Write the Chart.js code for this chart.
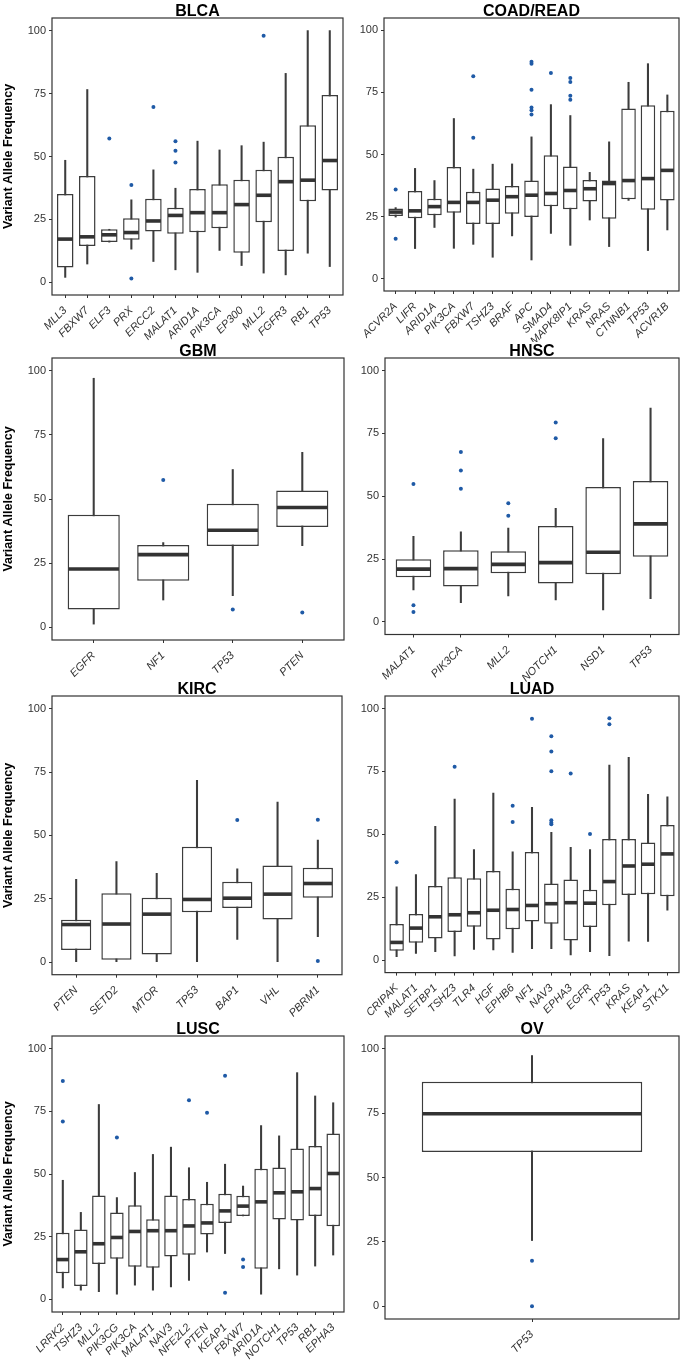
<!DOCTYPE html>
<html>
<head>
<meta charset="utf-8">
<script src="https://cdn.jsdelivr.net/npm/chart.js@4.4.1/dist/chart.umd.min.js"></script>
<style>
  html, body { margin: 0; padding: 0; background: #fff; }
  #page { position: relative; width: 681px; height: 1365px; overflow: hidden; background: #fff; }
  #page canvas { position: absolute; }
</style>
</head>
<body>
<div id="page"></div>
<script>
// Variant allele frequency boxplots per cancer type
// stats per gene: [lower whisker, Q1, median, Q3, upper whisker]
const Y_TICKS = [0, 25, 50, 75, 100];

const BLCA_GENES = ['MLL3', 'FBXW7', 'ELF3', 'PRX', 'ERCC2', 'MALAT1', 'ARID1A', 'PIK3CA', 'EP300', 'MLL2', 'FGFR3', 'RB1', 'TP53'];
const BLCA_STATS = [
  [2.0, 5.9, 17.2, 35.1, 48.5], [7.3, 14.5, 18.1, 42.3, 76.6], [16.0, 16.0, 18.9, 21.1, 21.1],
  [13.2, 16.9, 19.8, 25.5, 32.8], [8.3, 20.2, 24.4, 33.2, 44.7], [5.0, 19.3, 26.6, 29.6, 37.4],
  [4.0, 19.9, 27.7, 37.1, 56.1], [12.7, 21.5, 27.7, 39.0, 52.6], [6.7, 11.8, 30.9, 40.8, 54.3],
  [3.7, 23.9, 34.6, 44.7, 55.7], [3.0, 12.5, 40.0, 49.9, 83.0], [11.6, 32.2, 40.6, 62.4, 100],
  [6.3, 36.5, 48.4, 74.4, 100]
];
const BLCA_OUT = [['ELF3', 57.1], ['PRX', 38.7], ['PRX', 1.6], ['ERCC2', 69.7], ['MALAT1', 56.1], ['MALAT1', 52.3], ['MALAT1', 47.6], ['MLL2', 98.0]];

const COAD_GENES = ['ACVR2A', 'LIFR', 'ARID1A', 'PIK3CA', 'FBXW7', 'TSHZ3', 'BRAF', 'APC', 'SMAD4', 'MAPK8IP1', 'KRAS', 'NRAS', 'CTNNB1', 'TP53', 'ACVR1B'];
const COAD_STATS = [
  [24.8, 25.2, 26.8, 28.2, 28.6], [12.1, 24.3, 27.3, 35.3, 44.4], [20.6, 25.5, 29.0, 32.2, 39.5],
  [12.2, 26.5, 30.7, 45.0, 64.5], [13.8, 22.0, 30.7, 35.0, 44.1], [8.6, 22.0, 31.6, 36.3, 46.1],
  [17.2, 26.1, 33.0, 37.3, 46.2], [7.5, 24.8, 33.6, 39.5, 57.1], [18.2, 29.1, 34.3, 49.7, 70.1],
  [13.4, 27.9, 35.5, 45.2, 65.7], [23.6, 31.1, 36.2, 39.7, 42.8], [12.9, 24.1, 38.3, 39.5, 55.1],
  [31.5, 32.0, 39.5, 68.5, 79.1], [11.3, 27.7, 40.3, 69.8, 86.6], [19.6, 31.5, 43.6, 67.6, 74.0]
];
const COAD_OUT = [['ACVR2A', 35.9], ['ACVR2A', 16.1], ['FBXW7', 81.5], ['FBXW7', 56.7], ['APC', 87.4], ['APC', 86.6], ['APC', 76.1],
  ['APC', 68.9], ['APC', 67.8], ['APC', 66.1], ['SMAD4', 82.8], ['MAPK8IP1', 80.8], ['MAPK8IP1', 79.2], ['MAPK8IP1', 73.7], ['MAPK8IP1', 72.1]];

const GBM_GENES = ['EGFR', 'NF1', 'TP53', 'PTEN'];
const GBM_STATS = [[1.2, 6.9, 22.7, 43.9, 97.1], [10.6, 18.1, 28.3, 32.1, 33.0], [12.3, 31.7, 37.8, 48.1, 61.5], [31.8, 39.1, 46.7, 53.3, 68.2]];
const GBM_OUT = [['NF1', 57.4], ['TP53', 6.9], ['PTEN', 5.7]];

const HNSC_GENES = ['MALAT1', 'PIK3CA', 'MLL2', 'NOTCH1', 'NSD1', 'TP53'];
const HNSC_STATS = [
  [12.7, 17.8, 21.0, 24.9, 34.1], [7.7, 14.1, 21.2, 28.5, 35.8], [10.3, 19.4, 22.9, 28.1, 37.3],
  [8.8, 15.3, 23.6, 38.2, 45.2], [4.8, 19.0, 27.7, 53.7, 72.9], [9.3, 25.9, 39.0, 56.1, 85.1]
];
const HNSC_OUT = [['MALAT1', 54.9], ['MALAT1', 6.6], ['MALAT1', 4.0], ['PIK3CA', 67.6], ['PIK3CA', 60.2], ['PIK3CA', 53.0],
  ['MLL2', 47.2], ['MLL2', 42.2], ['NOTCH1', 79.3], ['NOTCH1', 73.1]];

const KIRC_GENES = ['PTEN', 'SETD2', 'MTOR', 'TP53', 'BAP1', 'VHL', 'PBRM1'];
const KIRC_STATS = [
  [0.1, 4.7, 14.8, 16.7, 32.6], [0.1, 0.9, 15.0, 27.1, 39.6], [0.1, 3.0, 18.9, 25.4, 35.0],
  [0.1, 19.6, 24.7, 45.5, 71.7], [8.9, 21.3, 25.2, 31.7, 36.8], [0.1, 16.8, 26.8, 38.1, 63.1],
  [10.0, 25.4, 31.0, 37.2, 48.1]
];
const KIRC_OUT = [['BAP1', 56.1], ['PBRM1', 56.2], ['PBRM1', 0.4]];

const LUAD_GENES = ['CRIPAK', 'MALAT1', 'SETBP1', 'TSHZ3', 'TLR4', 'HGF', 'EPHB6', 'NF1', 'NAV3', 'EPHA3', 'EGFR', 'TP53', 'KRAS', 'KEAP1', 'STK11'];
const LUAD_STATS = [
  [1.3, 3.7, 7.0, 14.3, 29.1], [2.6, 6.9, 12.7, 18.3, 34.0], [3.3, 8.6, 17.2, 29.4, 53.2],
  [1.6, 11.1, 18.0, 32.9, 64.0], [4.2, 13.2, 18.8, 32.5, 43.9], [4.0, 8.2, 19.8, 35.4, 66.4],
  [3.0, 12.2, 20.1, 28.3, 43.0], [4.5, 15.3, 21.7, 43.0, 60.7], [4.5, 14.4, 22.4, 30.4, 50.8],
  [2.0, 7.8, 22.8, 32.0, 44.8], [3.3, 13.1, 22.6, 27.9, 43.9], [1.7, 21.8, 31.2, 48.1, 77.5],
  [7.5, 25.9, 37.4, 48.1, 80.6], [7.4, 26.2, 38.1, 46.7, 65.9], [19.8, 25.4, 42.2, 53.7, 64.9]
];
const LUAD_OUT = [['CRIPAK', 38.9], ['TSHZ3', 76.9], ['EPHB6', 61.4], ['EPHB6', 54.9], ['NF1', 96.0], ['NAV3', 89.0], ['NAV3', 82.9],
  ['NAV3', 75.1], ['NAV3', 55.6], ['NAV3', 54.6], ['NAV3', 54.0], ['EPHA3', 74.2], ['EGFR', 50.1], ['TP53', 96.2], ['TP53', 93.8]];

const LUSC_GENES = ['LRRK2', 'TSHZ3', 'MLL2', 'PIK3CG', 'PIK3CA', 'MALAT1', 'NAV3', 'NFE2L2', 'PTEN', 'KEAP1', 'FBXW7', 'ARID1A', 'NOTCH1', 'TP53', 'RB1', 'EPHA3'];
const LUSC_STATS = [
  [4.6, 10.4, 15.9, 26.6, 47.5], [3.7, 5.4, 19.0, 27.9, 34.7], [3.1, 14.1, 22.2, 41.4, 77.7],
  [2.1, 16.2, 24.7, 34.7, 40.6], [5.7, 13.0, 27.1, 37.5, 50.6], [3.7, 12.6, 27.4, 32.0, 57.8],
  [5.0, 17.1, 27.4, 41.4, 60.7], [7.6, 17.8, 29.3, 40.0, 52.5], [18.9, 25.9, 30.5, 38.1, 46.7],
  [18.3, 30.5, 35.3, 42.1, 53.9], [33.3, 33.3, 37.2, 41.3, 45.2], [2.1, 12.2, 38.9, 52.1, 69.3],
  [12.2, 31.9, 42.5, 52.6, 65.2], [9.7, 31.5, 42.9, 60.2, 90.4], [13.3, 33.3, 44.2, 61.2, 81.1],
  [17.7, 29.2, 50.2, 66.1, 78.4]
];
const LUSC_OUT = [['LRRK2', 87.1], ['LRRK2', 70.9], ['PIK3CG', 64.5], ['NFE2L2', 79.4], ['PTEN', 74.4], ['KEAP1', 89.2], ['KEAP1', 2.7],
  ['FBXW7', 15.9], ['FBXW7', 12.9]];

const OV_GENES = ['TP53'];
const OV_STATS = [[25.5, 59.9, 74.8, 87.2, 97.4]];
const OV_OUT = [['TP53', 17.6], ['TP53', 0]];

// panel placement (canvas box + plot frame edges)
const PANELS = [
  { title: 'BLCA', genes: BLCA_GENES, stats: BLCA_STATS, out: BLCA_OUT, x: 0, y: 0, w: 350, h: 342, l: 52, r: 343, b: 295, yTitle: true },
  { title: 'COAD/READ', genes: COAD_GENES, stats: COAD_STATS, out: COAD_OUT, x: 340, y: 0, w: 345, h: 342, l: 384, r: 679, b: 291 },
  { title: 'GBM', genes: GBM_GENES, stats: GBM_STATS, out: GBM_OUT, x: 0, y: 340, w: 350, h: 342, l: 52, r: 344, b: 640, yTitle: true },
  { title: 'HNSC', genes: HNSC_GENES, stats: HNSC_STATS, out: HNSC_OUT, x: 340, y: 340, w: 345, h: 342, l: 385, r: 679, b: 634.5 },
  { title: 'KIRC', genes: KIRC_GENES, stats: KIRC_STATS, out: KIRC_OUT, x: 0, y: 678, w: 350, h: 344, l: 52, r: 342, b: 974.7, yTitle: true },
  { title: 'LUAD', genes: LUAD_GENES, stats: LUAD_STATS, out: LUAD_OUT, x: 340, y: 678, w: 345, h: 344, l: 385, r: 679, b: 972.6 },
  { title: 'LUSC', genes: LUSC_GENES, stats: LUSC_STATS, out: LUSC_OUT, x: 0, y: 1018, w: 350, h: 347, l: 52, r: 344, b: 1312, yTitle: true },
  { title: 'OV', genes: OV_GENES, stats: OV_STATS, out: OV_OUT, x: 340, y: 1018, w: 345, h: 347, l: 385, r: 679, b: 1319 }
];

const FONT = '"Liberation Sans", Arial, Helvetica, sans-serif';
const INK = '#333333';
const BOX_LINE = '#3c3c3c';
const OUTLIER = '#1f5aa6';

Chart.defaults.font.family = FONT;
Chart.defaults.color = INK;

const framePlugin = {
  id: 'frame',
  afterDatasetsDraw(chart) {
    const a = chart.chartArea, ctx = chart.ctx;
    ctx.save();
    ctx.strokeStyle = INK;
    ctx.lineWidth = 1.2;
    ctx.strokeRect(a.left, a.top, a.right - a.left, a.bottom - a.top);
    ctx.restore();
  }
};

function medianPlugin(stats) {
  return {
    id: 'median',
    afterDatasetsDraw(chart) {
      const yScale = chart.scales.y;
      const boxes = chart.getDatasetMeta(1).data;
      const ctx = chart.ctx;
      ctx.save();
      ctx.strokeStyle = INK;
      ctx.lineWidth = 3.6;
      boxes.forEach((bar, i) => {
        const py = yScale.getPixelForValue(stats[i][2]);
        ctx.beginPath();
        ctx.moveTo(bar.x - bar.width / 2 + 0.8, py);
        ctx.lineTo(bar.x + bar.width / 2 - 0.8, py);
        ctx.stroke();
      });
      ctx.restore();
    }
  };
}

function makePanel(p) {
  const page = document.getElementById('page');
  const canvas = document.createElement('canvas');
  canvas.width = p.w;
  canvas.height = p.h;
  canvas.style.left = p.x + 'px';
  canvas.style.top = p.y + 'px';
  canvas.style.width = p.w + 'px';
  canvas.style.height = p.h + 'px';
  page.appendChild(canvas);

  const n = p.genes.length;
  const yAxisWidth = p.l - p.x;
  const xAxisHeight = p.y + p.h - p.b;

  return new Chart(canvas, {
    type: 'bar',
    data: {
      datasets: [
        {
          // whiskers
          data: p.stats.map((s, i) => ({ x: i, y: [s[0], s[4]] })),
          backgroundColor: BOX_LINE,
          borderWidth: 0,
          barThickness: 1.4,
          grouped: false,
          order: 3
        },
        {
          // boxes
          data: p.stats.map((s, i) => ({ x: i, y: [s[1], s[3]] })),
          backgroundColor: '#ffffff',
          borderColor: BOX_LINE,
          borderWidth: 1.5,
          borderSkipped: false,
          barPercentage: 0.75,
          categoryPercentage: 1,
          grouped: false,
          order: 2
        },
        {
          type: 'scatter',
          data: p.out.map(o => ({ x: p.genes.indexOf(o[0]), y: o[1] })),
          backgroundColor: OUTLIER,
          borderWidth: 0,
          pointRadius: 2,
          order: 1
        }
      ]
    },
    options: {
      responsive: false,
      devicePixelRatio: 1,
      animation: false,
      layout: { padding: { left: 0, top: 0, bottom: 0, right: p.x + p.w - p.r } },
      plugins: {
        legend: { display: false },
        tooltip: { enabled: false },
        title: {
          display: true,
          text: p.title,
          fullSize: false,
          color: '#000',
          font: { size: 16, weight: 'bold', lineHeight: 0.8125 },
          padding: { top: 5, bottom: 0 }
        }
      },
      scales: {
        x: {
          type: 'linear',
          min: -0.6,
          max: n - 0.4,
          offset: false,
          afterBuildTicks: s => { s.ticks = p.genes.map((g, i) => ({ value: i })); },
          afterFit: s => { s.height = xAxisHeight; s.paddingLeft = 0; s.paddingRight = 0; },
          ticks: {
            autoSkip: false,
            minRotation: 45,
            maxRotation: 45,
            padding: 6,
            color: INK,
            font: { size: 11, style: 'italic' },
            callback: v => p.genes[v]
          },
          grid: { offset: false, drawOnChartArea: false, drawTicks: true, tickLength: 3, color: INK },
          border: { display: false }
        },
        y: {
          min: -5,
          max: 105,
          afterBuildTicks: s => { s.ticks = Y_TICKS.map(v => ({ value: v })); },
          afterFit: s => { s.width = yAxisWidth; s.paddingTop = 0; s.paddingBottom = 0; },
          ticks: { padding: 3, color: INK, font: { size: 11 } },
          grid: { drawOnChartArea: false, drawTicks: true, tickLength: 3, color: INK },
          border: { display: false },
          title: {
            display: !!p.yTitle,
            text: 'Variant Allele Frequency',
            color: '#000',
            font: { size: 12.5, weight: 'bold' },
            padding: { top: 1, bottom: 0 }
          }
        }
      }
    },
    plugins: [framePlugin, medianPlugin(p.stats)]
  });
}

PANELS.forEach(makePanel);
</script>
</body>
</html>
